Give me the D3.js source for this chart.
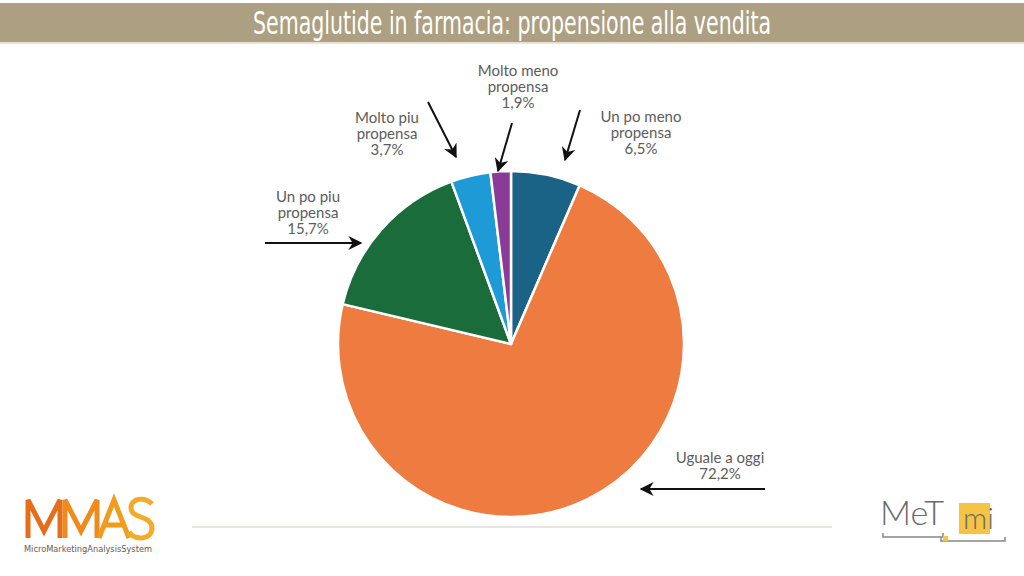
<!DOCTYPE html>
<html>
<head>
<meta charset="utf-8">
<script src="https://cdn.jsdelivr.net/npm/d3@7"></script>
<style>
  body { margin: 0; background: #fff; }
  svg { display: block; }
</style>
</head>
<body>
<svg id="mainSVG" width="1024" height="576"></svg>
<script>
// dati del grafico
var categorie = ["Un po meno propensa", "Uguale a oggi", "Un po piu propensa", "Molto piu propensa", "Molto meno propensa"];
var valori = [6.5, 72.2, 15.7, 3.7, 1.9];
var colori = ["#1b6287", "#ee7b40", "#1a6d3b", "#1e9bd6", "#8a3b98"];
var etichette = [
  ["Un po meno", "propensa", "6,5%"],
  ["Uguale a oggi", "72,2%"],
  ["Un po piu", "propensa", "15,7%"],
  ["Molto piu", "propensa", "3,7%"],
  ["Molto meno", "propensa", "1,9%"]
];

// posizione delle etichette e delle frecce (annotazioni)
var layout = [
  {x: 641, y: 122, arrow: [[580, 110], [565, 160]]},
  {x: 720, y: 463, arrow: [[765, 489], [641, 489]]},
  {x: 308, y: 202, arrow: [[265, 243], [361, 243]]},
  {x: 387, y: 123, arrow: [[428, 102], [456, 157]]},
  {x: 518, y: 76, arrow: [[512, 123], [498, 171]]}
];

var svg = d3.select("#mainSVG");
var W = 1024;

// barra del titolo
svg.append("rect").attr("x", 0).attr("y", 3).attr("width", W).attr("height", 39).attr("fill", "#ad9f81");
svg.append("rect").attr("x", 0).attr("y", 42).attr("width", W).attr("height", 2).attr("fill", "#e9e2d2");
svg.append("text")
  .attr("x", W / 2).attr("y", 34)
  .attr("text-anchor", "middle")
  .attr("font-family", "'DejaVu Sans Condensed', 'Liberation Sans Narrow', sans-serif")
  .attr("font-size", 32)
  .attr("textLength", 518).attr("lengthAdjust", "spacingAndGlyphs")
  .attr("fill", "#ffffff")
  .text("Semaglutide in farmacia: propensione alla vendita");

// torta
var cx = 511, cy = 344, r = 173;
var pie = d3.pie().sort(null).value(function (d) { return d; });
var arc = d3.arc().innerRadius(0).outerRadius(r);
var g = svg.append("g").attr("transform", "translate(" + cx + "," + cy + ")");
g.selectAll("path")
  .data(pie(valori))
  .enter().append("path")
  .attr("d", arc)
  .attr("fill", function (d, i) { return colori[i]; })
  .attr("stroke", "#ffffff")
  .attr("stroke-width", 2.5)
  .attr("stroke-linejoin", "round");

// punta della freccia
svg.append("defs").append("marker")
  .attr("id", "punta")
  .attr("viewBox", "0 0 10 10")
  .attr("refX", 9).attr("refY", 5)
  .attr("markerUnits", "userSpaceOnUse")
  .attr("orient", "auto")
  .attr("markerWidth", 14).attr("markerHeight", 14)
  .append("path")
  .attr("d", "M0,0 L10,5 L0,10 L3,5 Z")
  .attr("fill", "#111");

// etichette
layout.forEach(function (p, i) {
  var t = svg.append("text")
    .attr("text-anchor", "middle")
    .attr("font-family", "Lato, 'Open Sans', sans-serif")
    .attr("font-size", 15)
    .attr("fill", "#5c5c5c");
  etichette[i].forEach(function (riga, k) {
    t.append("tspan").attr("x", p.x).attr("y", p.y + k * 16).text(riga);
  });
  svg.append("line")
    .attr("x1", p.arrow[0][0]).attr("y1", p.arrow[0][1])
    .attr("x2", p.arrow[1][0]).attr("y2", p.arrow[1][1])
    .attr("stroke", "#111").attr("stroke-width", 2)
    .attr("marker-end", "url(#punta)");
});

// linea in basso
svg.append("line").attr("x1", 192).attr("x2", 832).attr("y1", 527).attr("y2", 527)
  .attr("stroke", "#cfcac0").attr("stroke-width", 1);

// logo MMAS (lettere disegnate a tratti)
var lettere = [
  {d: "M28,538 V500 L44,531 L60,500 V538", c: "#e66d1b"},
  {d: "M65,538 V500 L81,531 L97,500 V538", c: "#ef8a1c"},
  {d: "M99,538 L114,500 L129,538 M105,525 H123", c: "#f29c1e"},
  {d: "M152,504 C146,497 131,497 131,508 C131,519 152,515 152,528 C152,540 135,541 129,532", c: "#f5ab2a"}
];
svg.selectAll(".lettera")
  .data(lettere)
  .enter().append("path")
  .attr("class", "lettera")
  .attr("d", function (d) { return d.d; })
  .attr("fill", "none")
  .attr("stroke", function (d) { return d.c; })
  .attr("stroke-width", 5)
  .attr("stroke-linejoin", "miter");
svg.append("text")
  .attr("x", 24).attr("y", 552)
  .attr("font-family", "'DejaVu Sans Condensed', sans-serif")
  .attr("font-size", 8)
  .attr("textLength", 128).attr("lengthAdjust", "spacingAndGlyphs")
  .attr("fill", "#6a5a4a")
  .text("MicroMarketingAnalysisSystem");

// logo MeT mi
svg.append("text")
  .attr("x", 880).attr("y", 525)
  .attr("font-family", "Lato, sans-serif").attr("font-weight", 300)
  .attr("font-size", 34).attr("fill", "#6a6a6a")
  .attr("textLength", 64).attr("lengthAdjust", "spacingAndGlyphs")
  .text("MeT");
svg.append("rect").attr("x", 959).attr("y", 503).attr("width", 31).attr("height", 31).attr("fill", "#f6c343");
svg.append("text")
  .attr("x", 963).attr("y", 529)
  .attr("font-family", "Lato, sans-serif").attr("font-weight", 300)
  .attr("font-size", 30).attr("fill", "#6a6a6a")
  .text("mi");
svg.append("path").attr("d", "M883,533 V537 H943 V533").attr("fill", "none").attr("stroke", "#888").attr("stroke-width", 1.5);
svg.append("path").attr("d", "M941,537 V541 H1005 V537").attr("fill", "none").attr("stroke", "#888").attr("stroke-width", 1.5);
svg.append("rect").attr("x", 943).attr("y", 536).attr("width", 5).attr("height", 5).attr("fill", "#f6c343");
</script>
</body>
</html>
